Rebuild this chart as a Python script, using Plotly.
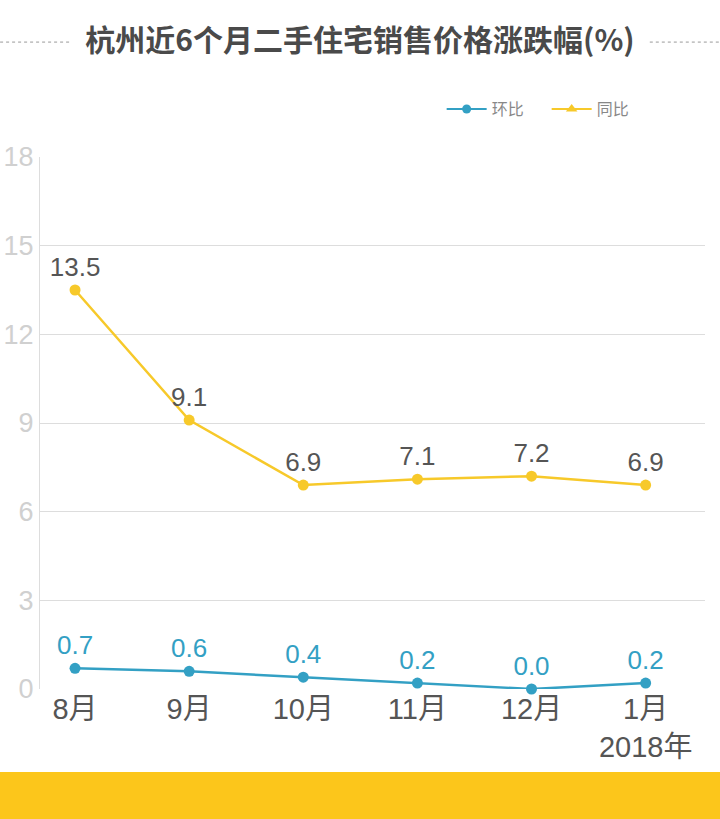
import plotly.graph_objects as go

months = ["8月", "9月", "10月", "11月", "12月", "1月<br>2018年"]
huanbi = [0.7, 0.6, 0.4, 0.2, 0.0, 0.2]
tongbi = [13.5, 9.1, 6.9, 7.1, 7.2, 6.9]
y_ticks = [0, 3, 6, 9, 12, 15, 18]

x = list(range(len(months)))
font_fam = "Liberation Sans, Arial, Noto Sans CJK SC, sans-serif"
blue = "#33a0c4"
yellow = "#f7c92a"

fig = go.Figure()

# real series (legend handled by dummy traces)
fig.add_trace(go.Scatter(
    x=x, y=tongbi, mode="lines+markers+text", showlegend=False,
    line=dict(color=yellow, width=2.5), marker=dict(color=yellow, size=11),
    text=[f"{v:.1f}" for v in tongbi], textposition="top center",
    textfont=dict(size=26, color="#555555", family=font_fam),
    cliponaxis=False,
))
fig.add_trace(go.Scatter(
    x=x, y=huanbi, mode="lines+markers+text", showlegend=False,
    line=dict(color=blue, width=2.5), marker=dict(color=blue, size=11),
    text=[f"{v:.1f}" for v in huanbi], textposition="top center",
    textfont=dict(size=26, color=blue, family=font_fam),
    cliponaxis=False,
))

# legend entries
fig.add_trace(go.Scatter(
    x=[None], y=[None], mode="lines+markers", name="环比",
    line=dict(color=blue, width=2), marker=dict(color=blue, size=9),
))
fig.add_trace(go.Scatter(
    x=[None], y=[None], mode="lines+markers", name="同比",
    line=dict(color=yellow, width=2), marker=dict(color=yellow, size=10, symbol="triangle-up"),
))

shapes = [
    # dotted lines beside the title
    dict(type="line", xref="paper", yref="paper", x0=-0.06, x1=0.045, y0=1.216, y1=1.216,
         line=dict(color="#999999", width=1, dash="dot")),
    dict(type="line", xref="paper", yref="paper", x0=0.917, x1=1.03, y0=1.216, y1=1.216,
         line=dict(color="#999999", width=1, dash="dot")),
    # yellow band at bottom
    dict(type="rect", xref="paper", yref="paper", x0=-0.07, x1=1.04, y0=-0.156, y1=-0.26,
         fillcolor="#fcc61b", line=dict(width=0), layer="below"),
]

fig.update_layout(
    width=720, height=819,
    margin=dict(l=40, r=15, t=157, b=130),
    paper_bgcolor="white", plot_bgcolor="white",
    font=dict(family=font_fam),
    title=dict(text="<b>杭州近6个月二手住宅销售价格涨跌幅(%)</b>", x=0.5, xanchor="center",
               y=0.950, yanchor="middle",
               font=dict(size=30, color="#4a4a4a", family="Noto Sans CJK SC, sans-serif")),
    legend=dict(orientation="h", x=0.604, xanchor="left", y=1.09, yanchor="middle",
                font=dict(size=16, color="#888888", family="Noto Sans CJK SC, sans-serif"),
                itemwidth=40, entrywidth=50, entrywidthmode="pixels",
                bgcolor="rgba(0,0,0,0)"),
    xaxis=dict(
        tickmode="array", tickvals=x, ticktext=months, range=[-0.307, 5.52],
        showgrid=False, zeroline=False, showline=False, ticks="", automargin=False,
        tickfont=dict(size=29, color="#555555", family=font_fam),
    ),
    yaxis=dict(
        tickmode="array", tickvals=y_ticks, range=[0, 18],
        showgrid=True, gridcolor="#dddddd", gridwidth=1, zeroline=False,
        showline=True, linecolor="#dddddd", linewidth=1, ticks="", automargin=False,
        tickfont=dict(size=27, color="#d0d0d0", family=font_fam),
        ticklabelstandoff=0,
    ),
    shapes=shapes,
)

fig.write_html("out.html", config={"displayModeBar": False},
               post_script="document.body.style.margin='0';")
